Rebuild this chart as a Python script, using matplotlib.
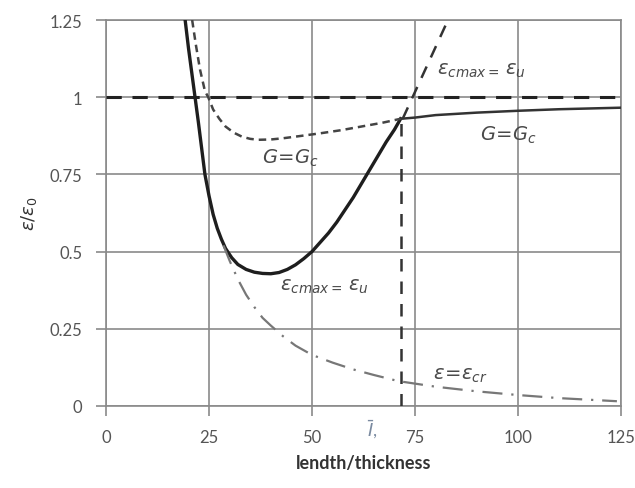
import numpy as np
import matplotlib.pyplot as plt

# curve data (length/thickness, eps/eps0)
solid_x = [19.2, 20.0, 20.8, 21.6, 22.4, 23.2, 24.0, 25.0, 26.0, 27.0, 28.0, 29.0, 30.5,
           32.0, 34.0, 36.0, 38.0, 40.0, 42.0, 44.0, 46.0, 48.0, 50.0, 52.0, 54.0, 56.0,
           58.0, 60.0, 62.0, 64.0, 66.0, 68.0, 70.0, 71.5]
solid_y = [1.25, 1.16, 1.08, 1.00, 0.92, 0.835, 0.75, 0.68, 0.62, 0.575, 0.54, 0.51, 0.48,
           0.458, 0.442, 0.433, 0.429, 0.428, 0.432, 0.442, 0.457, 0.477, 0.50, 0.53, 0.56, 0.595,
           0.635, 0.675, 0.72, 0.765, 0.81, 0.855, 0.895, 0.93]

gc_solid_x = [71.5, 75, 80, 90, 100, 110, 125]
gc_solid_y = [0.93, 0.934, 0.942, 0.950, 0.956, 0.961, 0.966]

gc_dash_x = [20.9, 21.8, 22.8, 24.0, 24.8, 26.0, 27.5, 29.0, 31.0, 33.0, 35.0, 37.0, 40.0,
             43.0, 47.0, 52.0, 57.0, 62.0, 67.0, 71.5]
gc_dash_y = [1.25, 1.17, 1.09, 1.02, 1.00, 0.96, 0.93, 0.905, 0.885, 0.872, 0.865, 0.862, 0.863,
             0.867, 0.874, 0.883, 0.893, 0.905, 0.917, 0.93]

cr_x = [28.5, 30.0, 32.0, 34.0, 36.0, 38.0, 40.0, 43.0, 46.0, 50.0, 55.0, 60.0, 65.0, 71.0,
        80.0, 90.0, 100.0, 110.0, 124.0]
cr_y = [0.52, 0.47, 0.41, 0.36, 0.32, 0.285, 0.26, 0.225, 0.195, 0.165, 0.14, 0.118, 0.10, 0.08,
        0.062, 0.047, 0.035, 0.025, 0.015]

eu_x = [72.0, 83.0]
eu_y = [0.93, 1.25]

l_star = 71.7
l_star_y = 0.93

xticks = [0, 25, 50, 75, 100, 125]
yticks = [0, 0.25, 0.5, 0.75, 1, 1.25]
ytick_labels = ["0", "0.25", "0.5", "0.75", "1", "1.25"]

plt.rcParams['font.family'] = ['Lato', 'DejaVu Sans']
plt.rcParams['mathtext.fontset'] = 'dejavusans'

fig = plt.figure(figsize=(6.35, 4.89), dpi=100)
ax = fig.add_axes([0.167, 0.168, 0.811, 0.789])

grid_col = '#8a8a8a'
txt_col = '#555555'

ax.set_xlim(0, 125)
ax.set_ylim(0, 1.25)
ax.set_xticks(xticks)
ax.set_yticks(yticks)
ax.set_yticklabels(ytick_labels)
ax.grid(True, color=grid_col, linewidth=1.2)
for s in ax.spines.values():
    s.set_color(grid_col)
    s.set_linewidth(1.2)
ax.tick_params(length=7, width=1.2, color=grid_col, labelcolor=txt_col,
               labelsize=12, pad=10)

# eps0 level
ax.axhline(1.0, color='#222222', lw=2.2, ls=(0, (5, 3.5)), zorder=3)

ax.plot(solid_x, solid_y, color='#1e1e1e', lw=2.4, zorder=4)
ax.plot(gc_solid_x, gc_solid_y, color='#333333', lw=1.8, zorder=4)
ax.plot(gc_dash_x, gc_dash_y, color='#444444', lw=1.8, ls=(0, (3, 2)), zorder=4)
ax.plot(cr_x, cr_y, color='#777777', lw=1.6, ls=(0, (9, 4, 1, 4)), zorder=4)
ax.plot(eu_x, eu_y, color='#333333', lw=1.8, ls=(0, (5, 4)), zorder=4)
ax.plot([l_star, l_star], [0, l_star_y], color='#333333', lw=1.8, ls=(0, (5, 4)), zorder=4)

lab_kw = dict(color='#4a4a4a', fontsize=14, style='italic', va='center', ha='left')
ax.text(37.9, 0.805, r"$G\!=\!G_c$", **lab_kw)
ax.text(90.8, 0.88, r"$G\!=\!G_c$", **lab_kw)
ax.text(42.2, 0.39, r"$\varepsilon_{cmax=}\,\varepsilon_u$", **lab_kw)
ax.text(80.3, 1.09, r"$\varepsilon_{cmax=}\,\varepsilon_u$", **lab_kw)
ax.text(79.4, 0.10, r"$\varepsilon\!=\!\varepsilon_{cr}$", **lab_kw)

ax.text(l_star - 7, -0.075, r"$\bar{I}$,", color='#7a8aa0', fontsize=13,
        ha='center', va='center', clip_on=False)

ax.set_xlabel("lendth/thickness", fontsize=13, fontweight='bold', color='#333333', labelpad=6)
ax.set_ylabel(r"$\varepsilon/\varepsilon_0$", fontsize=13, color='#333333', labelpad=8)

fig.savefig("out.png", dpi=100)
